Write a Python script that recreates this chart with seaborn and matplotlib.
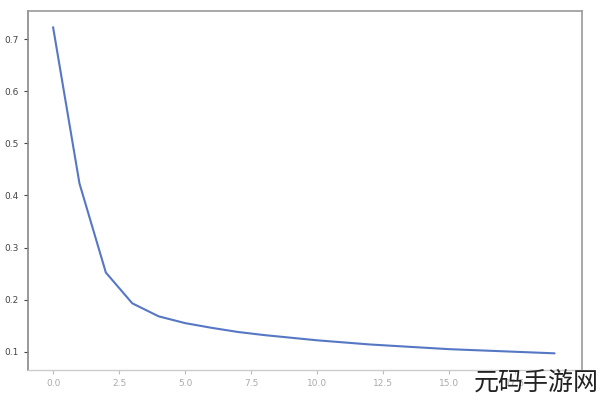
import matplotlib
matplotlib.use("Agg")
import matplotlib.pyplot as plt
import seaborn as sns
import pandas as pd

epochs = list(range(20))
loss = [0.723, 0.423, 0.252, 0.193, 0.168, 0.155, 0.146, 0.138, 0.132, 0.127,
        0.122, 0.118, 0.114, 0.111, 0.108, 0.105, 0.103, 0.101, 0.099, 0.097]
watermark = "元码手游网"

sns.set_style("white")
plt.rcParams['font.family'] = ['DejaVu Sans', 'Noto Sans CJK SC']

df = pd.DataFrame({"epoch": epochs, "loss": loss})

fig = plt.figure(figsize=(6, 4), dpi=100)
ax = fig.add_axes([28/600, 1 - 370/400, (582 - 28)/600, (370 - 11)/400])
sns.lineplot(data=df, x="epoch", y="loss", ax=ax, color="#5677c4", linewidth=1.5)
ax.set_xlabel("")
ax.set_ylabel("")
ax.set_xticks([0, 2.5, 5, 7.5, 10, 12.5, 15, 17.5])
ax.set_yticks([0.1, 0.2, 0.3, 0.4, 0.5, 0.6, 0.7])
ax.set_xlim(-0.95, 20.04)
ax.set_ylim(0.065, 0.754)
ax.tick_params(axis='y', labelsize=6.5, colors="#444444", length=3, left=True)
ax.tick_params(axis='x', labelsize=6.5, colors="#bbbbbb", length=3, bottom=True)
for lab in ax.get_xticklabels():
    lab.set_color("#aaaaaa")
for s in ["top", "right"]:
    ax.spines[s].set_color("#999999")
    ax.spines[s].set_linewidth(1.2)
ax.spines["left"].set_color("#888888")
ax.spines["left"].set_linewidth(1.2)
ax.spines["bottom"].set_color("#cccccc")
ax.spines["bottom"].set_linewidth(1.0)

fig.text(0.79, 0.012, watermark, fontsize=18, color="#222222",
         family=['Noto Sans CJK SC'], fontweight='light', ha='left', va='bottom')

fig.savefig("out.png", dpi=100)
